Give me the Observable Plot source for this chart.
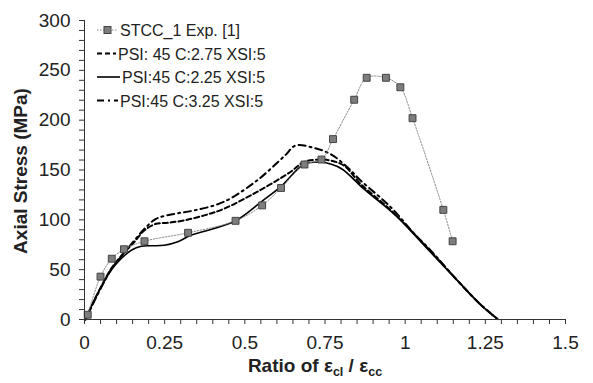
<!DOCTYPE html>
<html><head><meta charset="utf-8">
<script src="https://cdn.jsdelivr.net/npm/d3@7"></script>
<script src="https://cdn.jsdelivr.net/npm/@observablehq/plot@0.6"></script>
<style>body{margin:0;background:#fff;} #chart{width:593px;height:383px;}</style>
</head><body><div id="chart"></div>
<script>
// ---- data ----
const seriesNames = ["STCC_1 Exp. [1]", "PSI: 45 C:2.75 XSI:5", "PSI:45 C:2.25 XSI:5", "PSI:45 C:3.25 XSI:5"];

const expX = [0.010, 0.050, 0.085, 0.123, 0.187, 0.323, 0.471, 0.554, 0.613, 0.686, 0.739, 0.775, 0.841, 0.880, 0.940, 0.985, 1.023, 1.119, 1.148];
const expY = [4.8, 43, 61, 70.5, 78.5, 87, 99, 114.5, 132, 155.5, 160.5, 181, 220.5, 242.5, 242.5, 233, 202, 110, 78.5];

const c275X = [0.003, 0.021, 0.052, 0.083, 0.114, 0.156, 0.187, 0.223, 0.260, 0.312, 0.374, 0.434, 0.538, 0.642, 0.684, 0.736, 0.767, 0.809, 0.861, 0.954, 1.069, 1.172, 1.235, 1.290];
const c275Y = [0, 13, 33, 51, 63.5, 78, 89.5, 96, 97, 99.5, 104.5, 111, 128, 148, 158, 160.5, 159.5, 154.5, 136, 110, 72, 36, 15, 0];

const c225X = [0.003, 0.021, 0.052, 0.083, 0.114, 0.146, 0.177, 0.208, 0.249, 0.291, 0.331, 0.374, 0.471, 0.551, 0.611, 0.684, 0.736, 0.767, 0.803, 0.871, 0.975, 1.069, 1.172, 1.235, 1.290];
const c225Y = [0, 13, 33, 49.5, 61, 69.5, 73.5, 74, 74.5, 78, 84.5, 88.5, 99, 118, 133, 155.5, 158, 156, 151, 131, 103, 71, 36, 15, 0];

const c325X = [0.003, 0.021, 0.052, 0.083, 0.114, 0.156, 0.187, 0.223, 0.281, 0.343, 0.434, 0.538, 0.625, 0.658, 0.712, 0.767, 0.819, 0.861, 0.954, 1.037, 1.069, 1.172, 1.235, 1.290];
const c325Y = [0, 12, 32, 50, 63, 79.5, 91, 101, 106, 109.5, 118, 139.5, 164.5, 174.5, 172.5, 166, 153, 139.5, 113, 83, 73, 36, 15, 0];

const xTickLabels = [0, 0.25, 0.5, 0.75, 1, 1.25, 1.5];
const xMinorTicks = d3.range(0, 1.5001, 0.05);
const yTickLabels = [0, 50, 100, 150, 200, 250, 300];
const yMinorTicks = d3.range(0, 301, 10);

const toRows = (xs, ys) => xs.map((x, i) => ({x, y: ys[i]}));
const exp = toRows(expX, expY);
const s275 = toRows(c275X, c275Y);
const s225 = toRows(c225X, c225Y);
const s325 = toRows(c325X, c325Y);

const FONT = "'Liberation Sans', Arial, sans-serif";
const INK = "#222";

const chart = Plot.plot({
  width: 593, height: 383,
  marginLeft: 84, marginRight: 28, marginTop: 20, marginBottom: 64,
  x: {domain: [0, 1.5]},
  y: {domain: [0, 300]},
  style: {fontFamily: FONT, color: INK, background: "#fff", overflow: "visible"},
  marks: [
    Plot.line(s225, {x: "x", y: "y", curve: "catmull-rom", stroke: "#000", strokeWidth: 1.6}),
    Plot.line(s275, {x: "x", y: "y", curve: "catmull-rom", stroke: "#000", strokeWidth: 2, strokeDasharray: "5,3"}),
    Plot.line(s325, {x: "x", y: "y", curve: "catmull-rom", stroke: "#000", strokeWidth: 2, strokeDasharray: "7,4,2,4"}),
    Plot.line(exp, {x: "x", y: "y", curve: "catmull-rom", stroke: "#8a8a8a", strokeWidth: 1, strokeDasharray: "1.5,1.5"}),
    Plot.dot(exp, {x: "x", y: "y", symbol: "square", r: 3.9, fill: "#7d7d7d", stroke: "#444", strokeWidth: 1}),
    Plot.ruleX([0], {stroke: "#333"}),
    Plot.ruleY([0], {stroke: "#333"}),
    Plot.axisY({ticks: yMinorTicks, tickSize: 5, tickFormat: () => "", label: null, stroke: "#333"}),
    Plot.axisY({ticks: yTickLabels, tickSize: 0, tickPadding: 14, fontSize: 19, label: null, fill: INK}),
    Plot.axisX({ticks: xMinorTicks, tickSize: 5, tickFormat: () => "", label: null, stroke: "#333"}),
    Plot.axisX({ticks: xTickLabels, tickSize: 0, tickPadding: 16, fontSize: 19, label: null, fill: INK, tickFormat: d => String(d)})
  ]
});
document.getElementById("chart").appendChild(chart);

// ---- axis titles ----
const svg = d3.select(chart);
const xl = svg.append("text")
  .attr("x", 315).attr("y", 372).attr("text-anchor", "middle")
  .attr("font-family", FONT).attr("font-weight", "bold").attr("font-size", 19).attr("fill", INK);
xl.append("tspan").text("Ratio of ε");
xl.append("tspan").attr("dy", 4).attr("font-size", 12.5).text("cl");
xl.append("tspan").attr("dy", -4).text(" / ε");
xl.append("tspan").attr("dy", 4).attr("font-size", 12.5).text("cc");

svg.append("text")
  .attr("transform", "translate(27,171) rotate(-90)").attr("text-anchor", "middle")
  .attr("font-family", FONT).attr("font-weight", "bold").attr("font-size", 19).attr("fill", INK)
  .text("Axial Stress (MPa)");

// ---- legend ----
const lg = svg.append("g").attr("font-family", FONT).attr("font-size", 16).attr("fill", INK)
  .attr("text-anchor", "start");
const rows = [
  {name: seriesNames[0], y: 30, dash: "1.5,1.5", stroke: "#8a8a8a", w: 1, marker: true, x2: 118},
  {name: seriesNames[1], y: 53.5, dash: "5,3", stroke: "#000", w: 2, x2: 116},
  {name: seriesNames[2], y: 77, dash: null, stroke: "#000", w: 1.6, x2: 120},
  {name: seriesNames[3], y: 100.5, dash: "7,4,2,4", stroke: "#000", w: 2, x2: 118}
];
rows.forEach(r => {
  const l = lg.append("line").attr("x1", 97).attr("x2", r.x2).attr("y1", r.y).attr("y2", r.y)
    .attr("stroke", r.stroke).attr("stroke-width", r.w);
  if (r.dash) l.attr("stroke-dasharray", r.dash);
  if (r.marker) lg.append("rect").attr("x", 104).attr("y", r.y - 3.5).attr("width", 7).attr("height", 7)
    .attr("fill", "#7d7d7d").attr("stroke", "#444");
  lg.append("text").attr("x", r.x2 + 2).attr("y", r.y + 6).attr("text-anchor", "start").text(r.name);
});
</script>
</body></html>
